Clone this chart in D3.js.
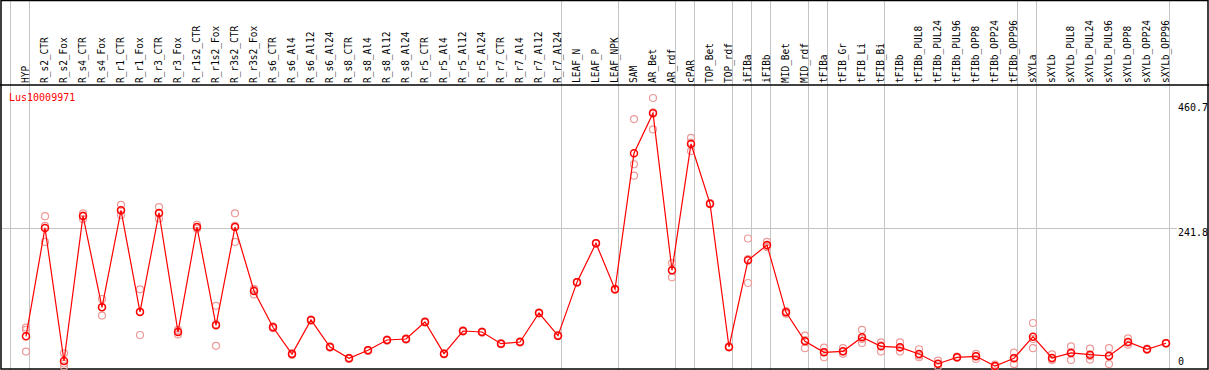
<!DOCTYPE html>
<html>
<head>
<meta charset="utf-8">
<script src="https://cdn.jsdelivr.net/npm/d3@7"></script>
<style>
  body { margin: 0; background: #fff; }
  text { font-family: "DejaVu Sans Mono", monospace; font-size: 10px; }
</style>
</head>
<body>
<div id="chart"></div>
<script>
// sample names (one per column)
const samples = ["HYP", "R_s2_CTR", "R_s2_Fox", "R_s4_CTR", "R_s4_Fox", "R_r1_CTR", "R_r1_Fox",
  "R_r3_CTR", "R_r3_Fox", "R_r1s2_CTR", "R_r1s2_Fox", "R_r3s2_CTR", "R_r3s2_Fox", "R_s6_CTR",
  "R_s6_Al4", "R_s6_Al12", "R_s6_Al24", "R_s8_CTR", "R_s8_Al4", "R_s8_Al12", "R_s8_Al24",
  "R_r5_CTR", "R_r5_Al4", "R_r5_Al12", "R_r5_Al24", "R_r7_CTR", "R_r7_Al4", "R_r7_Al12", "R_r7_Al24",
  "LEAF_N", "LEAF_P", "LEAF_NPK", "SAM", "AR_Bet", "AR_rdf", "cPAR", "TOP_Bet", "TOP_rdf",
  "iFIBa", "iFIBb", "MID_Bet", "MID_rdf", "tFIBa", "tFIB_Gr", "tFIB_Li", "tFIB_Bi", "tFIBb",
  "tFIBb_PUL8", "tFIBb_PUL24", "tFIBb_PUL96", "tFIBb_OPP8", "tFIBb_OPP24", "tFIBb_OPP96",
  "sXYLa", "sXYLb", "sXYLb_PUL8", "sXYLb_PUL24", "sXYLb_PUL96", "sXYLb_OPP8", "sXYLb_OPP24", "sXYLb_OPP96"];

// mean expression per sample
const means = [52.7, 242.4, 9.5, 263.4, 103.5, 273.4, 95.3, 268.7, 60.2, 244.1, 71.9, 244.1, 132,
  68.5, 21.7, 81.3, 34, 14.2, 28.2, 46.2, 48, 77.8, 22.3, 62, 60.2, 39.8, 42.7, 93.5, 53.8,
  147.5, 215.6, 135, 373.2, 443.3, 168.3, 389.5, 285, 34, 185.8, 212.6, 94.7, 44, 24.7,
  26.4, 51, 35.2, 33.4, 21.7, 4.7, 15.9, 17.7, 0.7, 14.2, 52, 14.7, 23.5, 20.5, 18.2, 42.7, 29.9, 40.5];

// replicate values per sample
const replicates = [[68, 64, 26], [263, 218, 246], [23, 0, 5], [268, 258, 264], [118, 89, 104],
  [283, 265, 273], [135, 55, 96], [279, 259, 268], [64, 56, 61], [248, 241, 244], [106, 36, 74],
  [268, 218, 246], [136, 126, 134], [70, 67, 68], [23, 20, 22], [82, 80, 81], [35, 33, 34],
  [15, 13, 14], [29, 27, 28], [47, 45, 46], [49, 47, 48], [79, 77, 78], [23, 21, 22], [63, 61, 62],
  [61, 59, 60], [41, 39, 40], [44, 42, 43], [94, 93, 94], [55, 53, 54], [148, 147, 147],
  [216, 215, 216], [136, 134, 135], [433, 354, 334], [470, 415, 445], [181, 156, 168],
  [400, 377, 392], [286, 284, 285], [35, 33, 34], [224, 146, 188], [218, 209, 211], [97, 92, 95],
  [54, 32, 46], [33, 16, 25], [32, 22, 26], [64, 41, 48], [42, 26, 37], [42, 26, 33],
  [30, 19, 16], [10, 0, 4], [17, 15, 16], [22, 13, 18], [3, 0, 0], [24, 4, 15], [76, 32, 48],
  [21, 12, 11], [35, 11, 25], [31, 12, 18], [32, 4, 19], [49, 38, 42], [31, 29, 30], [41, 40, 41]];

// column indices where a grey separator line starts
const groupBreaks = [0, 1, 29, 32, 35, 36, 38, 39, 40, 42, 43, 46, 53, 54, 61];
const yTicks = [0, 241.8, 460.7];
const geneName = "Lus10009971";

const width = 1209, height = 370,
      headerBottom = 85;

const svg = d3.select("#chart")
    .append("svg")
    .attr("width", width)
    .attr("height", height);

svg.append("rect").attr("width", width).attr("height", height).attr("fill", "#fff");

// columns, 19px each
const x = d3.scaleBand()
    .domain(samples)
    .range([11, 11 + 19 * samples.length]);

const y = d3.scaleLinear()
    .domain([0, 460.7])
    .range([366.4, 103.3]);

const px = d => x(d) + 15; // point sits right of column centre, under its label

// grey separators
svg.selectAll(".sep")
    .data(groupBreaks)
    .join("line")
    .attr("x1", k => x.range()[0] + k * x.bandwidth() - 0.5)
    .attr("x2", k => x.range()[0] + k * x.bandwidth() - 0.5)
    .attr("y1", 0)
    .attr("y2", height)
    .attr("stroke", "#c4c4c4");

// horizontal grid line at middle tick
svg.append("line")
    .attr("x1", 2).attr("x2", 1177)
    .attr("y1", Math.round(y(241.8)) + 0.5).attr("y2", Math.round(y(241.8)) + 0.5)
    .attr("stroke", "#c4c4c4");

// frame
svg.append("rect")
    .attr("x", 1).attr("y", 0.5)
    .attr("width", width - 2).attr("height", height - 1.5)
    .attr("fill", "none").attr("stroke", "#000").attr("stroke-width", 1.5);
svg.append("line")
    .attr("x1", 0).attr("x2", width)
    .attr("y1", headerBottom).attr("y2", headerBottom)
    .attr("stroke", "#000").attr("stroke-width", 1.5);

// rotated sample labels (slightly condensed like the original bitmap font)
svg.selectAll(".lab")
    .data(samples)
    .join("text")
    .attr("transform", d => `translate(${x(d) + 18},${headerBottom - 2}) rotate(-90) scale(0.95,1.1)`)
    .attr("fill", "#000")
    .text(d => d);

// right axis labels
svg.selectAll(".tick")
    .data(yTicks)
    .join("text")
    .attr("x", 1178)
    .attr("y", d => Math.min(y(d) + 7.5, 365))
    .attr("fill", "#000")
    .text(d => d);

svg.append("text")
    .attr("x", 9).attr("y", 100.5)
    .attr("fill", "red")
    .text(geneName);

// replicate circles
const repPts = [];
samples.forEach((s, i) => replicates[i].forEach(v => repPts.push({ s, v })));

svg.selectAll(".rep")
    .data(repPts)
    .join("circle")
    .attr("cx", d => px(d.s))
    .attr("cy", d => y(d.v))
    .attr("r", 3.5)
    .attr("fill", "none")
    .attr("stroke", "#ec9a9a")
    .attr("stroke-width", 1.2);

// mean line
const line = d3.line()
    .x((d, i) => px(samples[i]))
    .y(d => y(d));

svg.append("path")
    .datum(means)
    .attr("d", line)
    .attr("fill", "none")
    .attr("stroke", "red")
    .attr("stroke-width", 1.2);

svg.selectAll(".mean")
    .data(means)
    .join("circle")
    .attr("cx", (d, i) => px(samples[i]))
    .attr("cy", d => y(d))
    .attr("r", 3.5)
    .attr("fill", "none")
    .attr("stroke", "red")
    .attr("stroke-width", 1.5);
</script>
</body>
</html>
